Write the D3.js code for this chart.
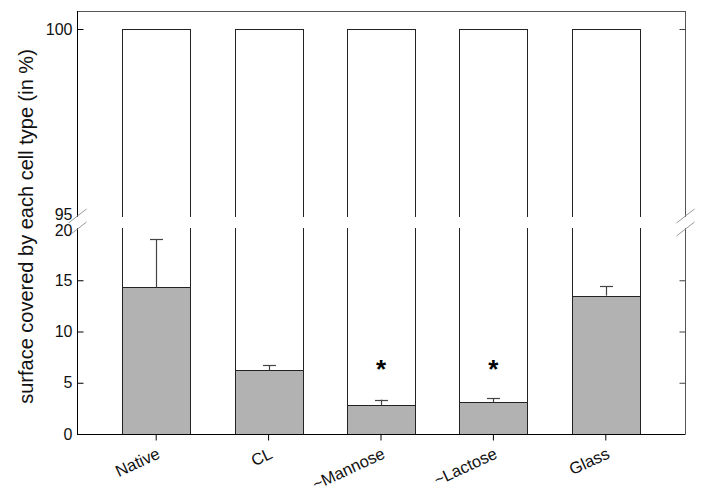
<!DOCTYPE html>
<html><head><meta charset="utf-8">
<script src="https://cdn.jsdelivr.net/npm/d3@7"></script>
<style>body{margin:0;background:#fff}svg{display:block}text{font-family:"Liberation Sans",Arial,sans-serif}</style>
</head><body><svg id="c" width="704" height="492"></svg>
<script>
const categories = ["Native", "CL", "~Mannose", "~Lactose", "Glass"];
const coverage = [14.3, 6.2, 2.8, 3.1, 13.5];
const errorTop = [19.0, 6.7, 3.35, 3.5, 14.4];
const totals = [100, 100, 100, 100, 100];
const significant = [false, false, true, true, false];
const upperTicks = [95, 100];
const lowerTicks = [0, 5, 10, 15, 20];

const L = 77, R = 685, T = 11, B = 434;
const svg = d3.select("#c");
const x = d3.scaleBand().domain(categories).range([L, R]).paddingInner(0.395).paddingOuter(0.402);
const yUp = d3.scaleLinear().domain([95, 100]).range([216, 29]);
const yLo = d3.scaleLinear().domain([0, 20]).range([B, 229]);
const gapTop = 217, gapBot = 228;

// upper white bars (total)
svg.append("g").selectAll("rect").data(categories).join("rect")
  .attr("x", d => Math.round(x(d)) + 0.5).attr("width", Math.round(x.bandwidth()))
  .attr("y", (d, i) => Math.round(yUp(totals[i])) + 0.5)
  .attr("height", (d, i) => B - Math.round(yUp(totals[i])))
  .attr("fill", "#fff").attr("stroke", "#222").attr("stroke-width", 1);
// gray bars
svg.append("g").selectAll("rect").data(categories).join("rect")
  .attr("x", d => Math.round(x(d)) + 0.5).attr("width", Math.round(x.bandwidth()))
  .attr("y", (d, i) => Math.round(yLo(coverage[i])) + 0.5)
  .attr("height", (d, i) => B - Math.round(yLo(coverage[i])))
  .attr("fill", "#b2b2b2").attr("stroke", "#222").attr("stroke-width", 1);
// error bars
const eg = svg.append("g").attr("stroke", "#444").attr("stroke-width", 1.2);
categories.forEach((c, i) => {
  const cx = Math.round(x(c) + x.bandwidth() / 2) + 0.5;
  eg.append("line").attr("x1", cx).attr("x2", cx).attr("y1", yLo(coverage[i])).attr("y2", yLo(errorTop[i]));
  eg.append("line").attr("x1", cx - 6.5).attr("x2", cx + 6.5).attr("y1", Math.round(yLo(errorTop[i])) + 0.5).attr("y2", Math.round(yLo(errorTop[i])) + 0.5);
});
// significance asterisks
svg.append("g").selectAll("text").data(categories.filter((c, i) => significant[i])).join("text")
  .attr("x", d => x(d) + x.bandwidth() / 2).attr("y", yLo(6.5) + 11)
  .attr("text-anchor", "middle").attr("font-size", 26).attr("font-weight", "bold").text("*");

// break gap
svg.append("rect").attr("x", L - 2).attr("y", gapTop).attr("width", R - L + 4).attr("height", gapBot - gapTop).attr("fill", "#fff");

// frame
svg.append("line").attr("x1", L).attr("x2", R).attr("y1", T + 0.5).attr("y2", T + 0.5).attr("stroke", "#555");
svg.append("line").attr("x1", L).attr("x2", R + 0.5).attr("y1", B + 0.5).attr("y2", B + 0.5).attr("stroke", "#000");
[[T, gapTop], [gapBot, B]].forEach(([a, b]) => {
  svg.append("line").attr("x1", L + 0.5).attr("x2", L + 0.5).attr("y1", a).attr("y2", b).attr("stroke", "#000");
  svg.append("line").attr("x1", R + 0.5).attr("x2", R + 0.5).attr("y1", a).attr("y2", b).attr("stroke", "#555");
});
// break slashes
[L + 0.5, R + 0.5].forEach(ax => {
  [216, 229].forEach(yy => {
    svg.append("line").attr("x1", ax - 9).attr("y1", yy + 7).attr("x2", ax + 9).attr("y2", yy - 7)
      .attr("stroke", "#999").attr("stroke-width", 1);
  });
});

// axes
function styleAxis(g, hide) {
  g.select(".domain").remove();
  g.selectAll(".tick line").attr("stroke", "#000");
  g.selectAll(".tick").filter(d => hide.includes(d)).select("line").remove();
  g.selectAll("text").attr("font-size", 16).attr("fill", "#111");
}
svg.append("g").attr("transform", `translate(${L + 0.5},0)`)
  .call(d3.axisLeft(yUp).tickValues(upperTicks).tickFormat(d3.format("d")).tickSize(-6).tickPadding(5))
  .call(g => { styleAxis(g, [95]); g.selectAll(".tick").filter(d => d === 95).select("text").attr("dy", "0.2em"); });
svg.append("g").attr("transform", `translate(${L + 0.5},0)`)
  .call(d3.axisLeft(yLo).tickValues(lowerTicks).tickFormat(d3.format("d")).tickSize(-6).tickPadding(5))
  .call(g => { styleAxis(g, [0, 20]); g.selectAll(".tick").filter(d => d === 20).select("text").attr("dy", "0.42em"); });
svg.append("g").attr("transform", `translate(${R + 0.5},0)`)
  .call(d3.axisRight(yUp).tickValues(upperTicks).tickSize(-6).tickFormat(""))
  .call(g => { styleAxis(g, [95]); g.selectAll(".tick line").attr("stroke", "#444"); });
svg.append("g").attr("transform", `translate(${R + 0.5},0)`)
  .call(d3.axisRight(yLo).tickValues(lowerTicks).tickSize(-6).tickFormat(""))
  .call(g => { styleAxis(g, [0, 20]); g.selectAll(".tick line").attr("stroke", "#444"); });

const xg = svg.append("g").attr("transform", `translate(0,${B + 0.5})`)
  .call(d3.axisBottom(x).tickSize(6).tickSizeOuter(0));
xg.select(".domain").remove();
xg.selectAll(".tick line").attr("stroke", "#000");
xg.selectAll("text").attr("font-size", 16.5).attr("fill", "#111")
  .attr("text-anchor", "end").attr("dy", 0).attr("y", 0)
  .attr("transform", "translate(5,23) rotate(-25)");

// y label
svg.append("text").attr("transform", `translate(33,${(T + B) / 2 + 4}) rotate(-90)`)
  .attr("text-anchor", "middle").attr("font-size", 20).attr("fill", "#111")
  .text("surface covered by each cell type (in %)");
</script></body></html>
